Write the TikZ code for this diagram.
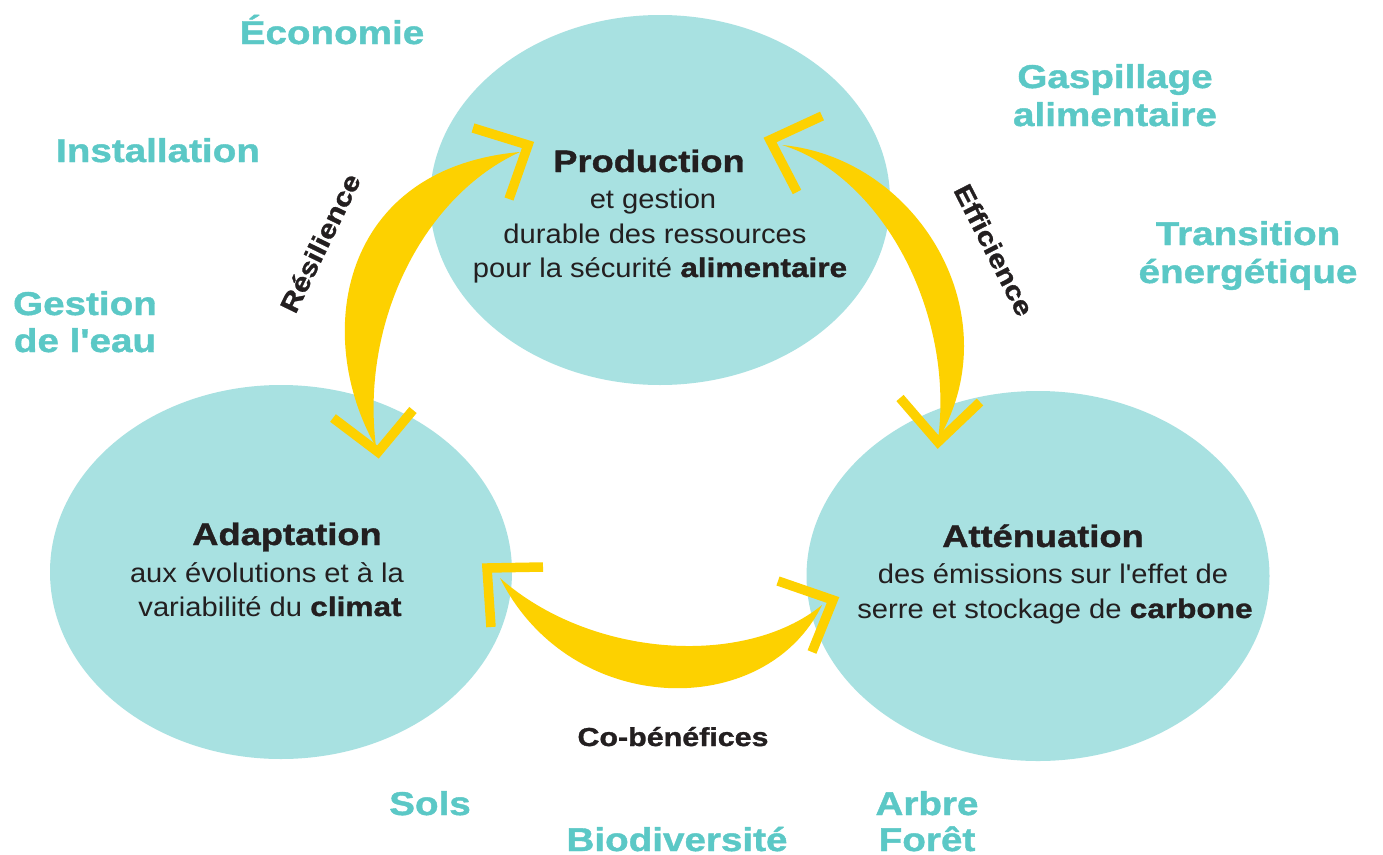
\documentclass[tikz,border=0pt]{standalone}
\usepackage{fontspec}
\setmainfont{Liberation Sans}
\newfontfamily\regf[FakeStretch=1.08]{Liberation Sans}
\newfontfamily\hvyf[FakeStretch=1.17,FakeBold=1.2]{Liberation Sans}
\usetikzlibrary{shapes.geometric}
\definecolor{ell}{HTML}{A8E1E1}
\definecolor{tealtxt}{HTML}{5BC8C6}
\definecolor{yel}{HTML}{FDD100}
\definecolor{ink}{HTML}{231F20}
\tikzset{
  lbl/.style={font=\hvyf\bfseries\fontsize{33}{38}\selectfont, text=tealtxt, anchor=base, inner sep=0pt},
  ttl/.style={font=\hvyf\bfseries\fontsize{31}{36}\selectfont, text=ink, anchor=base, inner sep=0pt},
  body/.style={font=\regf\fontsize{27}{35}\selectfont, text=ink, anchor=base, inner sep=0pt},
  side/.style={font=\hvyf\bfseries\fontsize{26}{30}\selectfont, text=ink, inner sep=0pt},
  bub/.style={ellipse, fill=ell, inner sep=0pt},
  crescent/.style={fill=yel},
  chev/.style={draw=yel, line width=9.5pt, line cap=butt, line join=miter}
}
\newcommand{\bw}[1]{{\hvyf\bfseries #1}}
\begin{document}
\begin{tikzpicture}[x=1pt,y=-1pt]
\fill[white] (0,0) rectangle (1383,854);
\useasboundingbox (0,0) rectangle (1383,854);

% bubbles
\node[bub, minimum width=460pt, minimum height=370pt] (prod) at (660,200) {};
\node[bub, minimum width=462pt, minimum height=374pt] (adap) at (281,572) {};
\node[bub, minimum width=463pt, minimum height=370pt] (att) at (1038,576) {};

% bubble texts
\node[ttl]  (p1) at (649,172) {Production};
\node[body] (p2) at (653,208) {et gestion};
\node[body] (p3) at (655,243) {durable des ressources};
\node[body] (p4) at (660,277) {pour la sécurité \bw{alimentaire}};

\node[ttl]  (a1) at (287,545) {Adaptation};
\node[body] (a2) at (267,582) {aux évolutions et à la};
\node[body] (a3) at (270,616) {variabilité du \bw{climat}};

\node[ttl]  (t1) at (1043,547) {Atténuation};
\node[body] (t2) at (1053,583) {des émissions sur l'effet de};
\node[body] (t3) at (1055,618) {serre et stockage de \bw{carbone}};

% outer labels
\node[lbl] (eco) at (332,44) {Économie};
\node[lbl] (ins) at (158,162) {Installation};
\node[lbl] (ge1) at (85,315) {Gestion};
\node[lbl] (ge2) at (85,352) {de l'eau};
\node[lbl] (ga1) at (1115,88) {Gaspillage};
\node[lbl] (ga2) at (1115,126) {alimentaire};
\node[lbl] (tr1) at (1248,245) {Transition};
\node[lbl] (tr2) at (1248,283) {énergétique};
\node[lbl] (sol) at (430,815) {Sols};
\node[lbl] (bio) at (677,851) {Biodiversité};
\node[lbl] (ar1) at (927,815) {Arbre};
\node[lbl] (ar2) at (927,851) {Forêt};

% arrow labels
\node[side, rotate=64] (res) at (320,243) {Résilience};
\node[side, rotate=-63] (eff) at (994,250) {Efficience};
\node[side, anchor=base] (cob) at (673,746) {Co-bénéfices};

% Resilience arrow (prod <-> adap)
\coordinate (r1) at (520,152);
\coordinate (r2) at (376,447);
\fill[crescent] (r1) .. controls (340,168) and (312,335) .. (r2)
  .. controls (360,320) and (425,195) .. (r1) -- cycle;
\coordinate (r1v) at (528,145);
\coordinate (r2v) at (378,452);
\draw[chev] (473,128) -- (r1v) -- (509,199);
\draw[chev] (333,418) -- (r2v) -- (413,410);

% Efficience arrow (prod <-> att)
\coordinate (e1) at (782,145);
\coordinate (e2) at (938,440);
\fill[crescent] (e1) .. controls (918,158) and (1012,315) .. (e2)
  .. controls (955,310) and (880,175) .. (e1) -- cycle;
\coordinate (e1v) at (770,140);
\coordinate (e2v) at (938,442);
\draw[chev] (822,116) -- (e1v) -- (797,192);
\draw[chev] (900,398) -- (e2v) -- (980,402);

% Co-benefices arrow (adap <-> att)
\coordinate (c1) at (500,578);
\coordinate (c2) at (822,605);
\fill[crescent] (c1) .. controls (570,718) and (765,722) .. (c2)
  .. controls (745,668) and (590,658) .. (c1) -- cycle;
\coordinate (c1v) at (487,568);
\coordinate (c2v) at (833,600);
\draw[chev] (543,567) -- (c1v) -- (491,627);
\draw[chev] (778,581) -- (c2v) -- (812,652);
\end{tikzpicture}
\end{document}
